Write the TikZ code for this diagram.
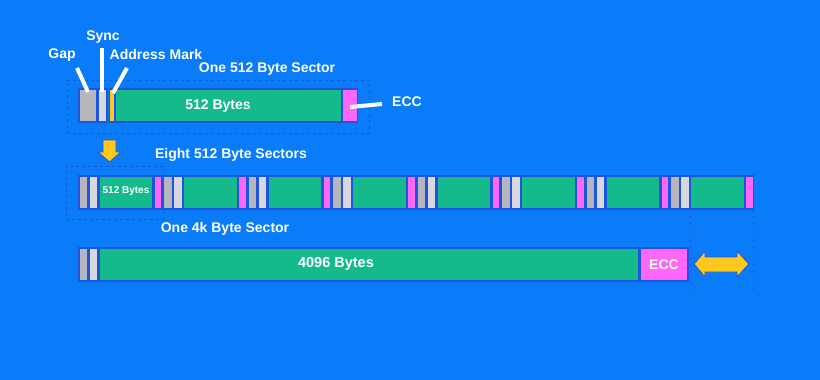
\documentclass[tikz,border=0pt]{standalone}
\usepackage{fontspec}
\setmainfont{Liberation Sans}
\definecolor{bg}{RGB}{10,124,250}
\definecolor{segline}{RGB}{28,86,222}
\definecolor{datagreen}{RGB}{20,186,140}
\definecolor{eccmag}{RGB}{255,102,250}
\definecolor{gapgray}{RGB}{182,182,188}
\definecolor{syncgray}{RGB}{216,216,222}
\definecolor{amyellow}{RGB}{255,200,30}
\newcommand{\mkseg}[6]{\node[seg, fill=#6, minimum width=#4pt, minimum height=#5pt] (#1) at (#2,#3) {};}
\begin{document}
\begin{tikzpicture}[x=1pt,y=-1pt,
  seg/.style={draw=segline, line width=1.2pt, inner sep=0pt, outer sep=0pt, anchor=north west},
  lbl/.style={text=white, font=\fontsize{14}{16}\selectfont\bfseries, inner sep=0pt},
  small/.style={text=white, font=\fontsize{10}{12}\selectfont\bfseries, inner sep=0pt},
  ptr/.style={white, line width=4pt},
  dbox/.style={draw=segline, dash pattern=on 3pt off 3pt, line width=0.9pt, inner sep=0pt, outer sep=0pt, anchor=north west},
  vguide/.style={draw=segline, dash pattern=on 2pt off 4pt, line width=0.9pt},
  yarrow/.style={fill=amyellow, draw=segline, line width=0.9pt, line join=round}]
\fill[bg] (0,0) rectangle (820,380);
\useasboundingbox (0,0) rectangle (820,380);

% ---------- Row 1: one 512 byte sector ----------
\node[dbox, minimum width=302pt, minimum height=53pt] (sec1) at (67,80) {};
\mkseg{gap1}{79}{89}{18}{33}{gapgray}
\mkseg{sync1}{98}{89}{9}{33}{syncgray}
\mkseg{am1}{109.5}{89}{5}{33}{amyellow}
\mkseg{data1}{115.5}{89}{226}{33}{datagreen}
\mkseg{ecc1}{342.5}{89}{15}{33}{eccmag}
\node[lbl] (data1t) at (218,106) {512 Bytes};

\node[lbl] (gapl) at (62,55) {Gap};
\node[lbl] (syncl) at (103,37) {Sync};
\node[lbl] (aml) at (156,54) {Address Mark};
\node[lbl] (secl) at (267,69) {One 512 Byte Sector};
\node[lbl] (eccl) at (407,102) {ECC};

\coordinate (gapS) at (77,68);
\coordinate (gapE) at (88,92);
\coordinate (syncS) at (102,48);
\coordinate (syncE) at (102,92);
\coordinate (amS) at (127,68);
\coordinate (amE) at (113,93);
\coordinate (eccS) at (382,104);
\coordinate (eccE) at (350,107);
\draw[ptr] (gapS) -- (gapE);
\draw[ptr] (syncS) -- (syncE);
\draw[ptr] (amS) -- (amE);
\draw[ptr] (eccS) -- (eccE);

% down arrow
\draw[yarrow] (103,140) -- (116,140) -- (116,152) -- (121,152) -- (109.5,162) -- (98,152) -- (103,152) -- cycle;

% ---------- Row 2: eight 512 byte sectors ----------
\node[dbox, minimum width=97pt, minimum height=53pt] (sec2) at (66,166) {};
\foreach \i in {0,...,7}{
  \pgfmathsetmacro{\s}{79+84.5*\i}
  \pgfmathsetmacro{\sa}{\s+10}
  \pgfmathsetmacro{\sb}{\s+20}
  \pgfmathsetmacro{\sc}{\s+75}
  \mkseg{g\i}{\s}{176}{9}{33}{gapgray}
  \mkseg{s\i}{\sa}{176}{9}{33}{syncgray}
  \mkseg{d\i}{\sb}{176}{54}{33}{datagreen}
  \mkseg{e\i}{\sc}{176}{8}{33}{eccmag}
}
\node[small] (d0t) at (126,191) {512 Bytes};
\node[lbl] (eightl) at (231,155) {Eight 512 Byte Sectors};
\node[lbl] (fourkl) at (225,229) {One 4k Byte Sector};

% ---------- Row 3: one 4k byte sector ----------
\mkseg{g4k}{79}{248}{9}{33}{gapgray}
\mkseg{s4k}{89}{248}{9}{33}{syncgray}
\mkseg{d4k}{99}{248}{540}{33}{datagreen}
\mkseg{e4k}{640}{248}{48}{33}{eccmag}
\node[lbl, font=\fontsize{14.5}{16}\selectfont\bfseries] (d4kt) at (336,264) {4096 Bytes};
\node[lbl] (e4kt) at (e4k.center) {ECC};

% guides
\coordinate (va1) at (690,210);
\coordinate (va2) at (690,290);
\coordinate (vb1) at (753.5,210);
\coordinate (vb2) at (753.5,290);
\draw[vguide] (va1) -- (va2);
\draw[vguide] (vb1) -- (vb2);

% double arrow
\draw[yarrow] (694,264) -- (705,251) -- (705,257) -- (737,257) -- (737,251) -- (749,264) -- (737,277) -- (737,272) -- (705,272) -- (705,277) -- cycle;
\end{tikzpicture}
\end{document}
